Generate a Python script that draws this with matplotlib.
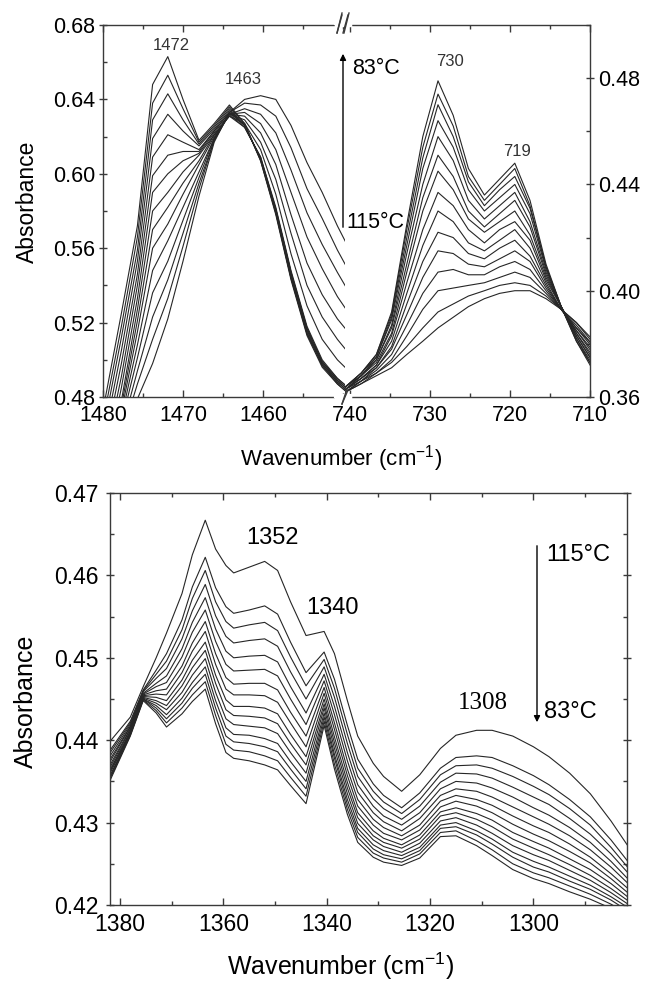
import matplotlib
matplotlib.use("Agg")
import matplotlib.pyplot as plt
from matplotlib.lines import Line2D
from matplotlib.ticker import MultipleLocator, FormatStrFormatter

plt.rcParams["font.family"] = "Liberation Sans"
plt.rcParams["mathtext.fontset"] = "custom"
plt.rcParams["mathtext.rm"] = "Liberation Sans"
plt.rcParams["mathtext.it"] = "Liberation Sans:italic"

# ---- top left: CH2 bending region (83 C first ... 115 C last) ----
tl_wn = [1481.5, 1479.6, 1477.7, 1475.7, 1473.8, 1471.9, 1470.0, 1468.0, 1466.1,
         1464.2, 1462.3, 1460.3, 1458.4, 1456.5, 1454.5, 1452.6, 1450.7, 1448.8]
tl_spectra = [
    [0.440, 0.482, 0.525, 0.572, 0.648, 0.663, 0.640, 0.618, 0.627, 0.637, 0.627, 0.607, 0.578, 0.543, 0.513, 0.496, 0.487, 0.480],
    [0.434, 0.476, 0.518, 0.566, 0.638, 0.653, 0.635, 0.617, 0.626, 0.636, 0.627, 0.607, 0.579, 0.544, 0.514, 0.497, 0.487, 0.480],
    [0.429, 0.470, 0.512, 0.559, 0.629, 0.643, 0.629, 0.616, 0.625, 0.635, 0.626, 0.608, 0.579, 0.544, 0.514, 0.497, 0.488, 0.481],
    [0.423, 0.464, 0.505, 0.553, 0.619, 0.632, 0.623, 0.615, 0.624, 0.634, 0.626, 0.608, 0.580, 0.545, 0.515, 0.498, 0.488, 0.481],
    [0.417, 0.458, 0.498, 0.546, 0.609, 0.621, 0.617, 0.613, 0.623, 0.633, 0.626, 0.608, 0.580, 0.546, 0.516, 0.498, 0.489, 0.482],
    [0.411, 0.452, 0.491, 0.540, 0.599, 0.610, 0.612, 0.612, 0.623, 0.633, 0.626, 0.608, 0.581, 0.547, 0.517, 0.499, 0.489, 0.482],
    [0.406, 0.446, 0.485, 0.533, 0.590, 0.600, 0.607, 0.611, 0.622, 0.632, 0.625, 0.609, 0.581, 0.547, 0.517, 0.499, 0.490, 0.483],
    [0.400, 0.440, 0.478, 0.527, 0.580, 0.590, 0.601, 0.610, 0.621, 0.631, 0.625, 0.609, 0.582, 0.548, 0.518, 0.500, 0.490, 0.483],
    [0.400, 0.439, 0.475, 0.521, 0.570, 0.582, 0.595, 0.607, 0.621, 0.631, 0.627, 0.613, 0.589, 0.557, 0.529, 0.511, 0.500, 0.492],
    [0.400, 0.438, 0.472, 0.515, 0.560, 0.573, 0.589, 0.605, 0.620, 0.632, 0.629, 0.617, 0.597, 0.568, 0.540, 0.523, 0.511, 0.501],
    [0.400, 0.436, 0.469, 0.508, 0.548, 0.564, 0.582, 0.601, 0.619, 0.632, 0.631, 0.622, 0.605, 0.578, 0.552, 0.535, 0.522, 0.512],
    [0.400, 0.435, 0.466, 0.501, 0.536, 0.553, 0.575, 0.598, 0.619, 0.632, 0.633, 0.627, 0.613, 0.590, 0.566, 0.549, 0.534, 0.522],
    [0.400, 0.433, 0.462, 0.494, 0.523, 0.543, 0.568, 0.595, 0.618, 0.632, 0.635, 0.632, 0.622, 0.602, 0.579, 0.562, 0.547, 0.533],
    [0.400, 0.432, 0.459, 0.487, 0.511, 0.533, 0.561, 0.592, 0.618, 0.633, 0.638, 0.637, 0.631, 0.614, 0.592, 0.576, 0.559, 0.544],
    [0.400, 0.430, 0.455, 0.479, 0.498, 0.522, 0.553, 0.588, 0.617, 0.633, 0.640, 0.642, 0.640, 0.626, 0.606, 0.590, 0.572, 0.556],
]

# ---- top right: CH2 rocking region ----
tr_wn = [742.5, 740.5, 738.6, 736.7, 734.8, 732.9, 730.9, 729.0, 727.1,
         725.2, 723.2, 721.3, 719.4, 717.5, 715.5, 713.6, 711.7, 709.8]
tr_spectra = [
    [0.358, 0.364, 0.369, 0.376, 0.392, 0.425, 0.458, 0.479, 0.466, 0.446, 0.436, 0.442, 0.448, 0.434, 0.410, 0.394, 0.381, 0.371],
    [0.358, 0.364, 0.369, 0.376, 0.391, 0.423, 0.454, 0.474, 0.462, 0.443, 0.434, 0.440, 0.446, 0.432, 0.409, 0.394, 0.381, 0.372],
    [0.358, 0.364, 0.369, 0.375, 0.390, 0.420, 0.450, 0.470, 0.458, 0.441, 0.432, 0.438, 0.443, 0.431, 0.409, 0.394, 0.382, 0.372],
    [0.358, 0.364, 0.368, 0.375, 0.389, 0.417, 0.446, 0.464, 0.454, 0.438, 0.430, 0.435, 0.440, 0.429, 0.408, 0.394, 0.382, 0.373],
    [0.358, 0.364, 0.368, 0.374, 0.387, 0.414, 0.440, 0.458, 0.449, 0.434, 0.427, 0.432, 0.437, 0.426, 0.407, 0.394, 0.383, 0.374],
    [0.358, 0.363, 0.368, 0.374, 0.386, 0.410, 0.435, 0.451, 0.443, 0.430, 0.424, 0.429, 0.434, 0.424, 0.406, 0.394, 0.383, 0.374],
    [0.358, 0.363, 0.368, 0.373, 0.384, 0.407, 0.430, 0.445, 0.438, 0.427, 0.422, 0.426, 0.430, 0.421, 0.405, 0.394, 0.384, 0.375],
    [0.358, 0.363, 0.367, 0.372, 0.383, 0.403, 0.423, 0.437, 0.432, 0.423, 0.418, 0.423, 0.426, 0.419, 0.404, 0.394, 0.384, 0.376],
    [0.358, 0.363, 0.367, 0.372, 0.381, 0.399, 0.417, 0.430, 0.426, 0.418, 0.415, 0.419, 0.423, 0.416, 0.403, 0.393, 0.385, 0.377],
    [0.357, 0.363, 0.367, 0.371, 0.379, 0.395, 0.411, 0.422, 0.420, 0.414, 0.412, 0.416, 0.419, 0.413, 0.402, 0.393, 0.385, 0.378],
    [0.357, 0.363, 0.366, 0.371, 0.378, 0.391, 0.405, 0.415, 0.414, 0.410, 0.409, 0.412, 0.415, 0.411, 0.401, 0.393, 0.386, 0.379],
    [0.357, 0.362, 0.366, 0.370, 0.376, 0.387, 0.399, 0.407, 0.408, 0.406, 0.406, 0.409, 0.411, 0.408, 0.400, 0.393, 0.386, 0.380],
    [0.357, 0.362, 0.366, 0.369, 0.374, 0.383, 0.393, 0.400, 0.401, 0.402, 0.403, 0.405, 0.407, 0.405, 0.399, 0.393, 0.387, 0.380],
    [0.357, 0.362, 0.365, 0.369, 0.373, 0.379, 0.386, 0.392, 0.395, 0.398, 0.400, 0.402, 0.403, 0.402, 0.398, 0.393, 0.388, 0.381],
    [0.357, 0.362, 0.365, 0.368, 0.371, 0.376, 0.381, 0.386, 0.390, 0.394, 0.397, 0.399, 0.400, 0.400, 0.397, 0.393, 0.388, 0.382],
]

# ---- bottom: CH2 wagging region (115 C first ... 83 C last) ----
bot_wn = [1382, 1378, 1375.5, 1373, 1371, 1368, 1366, 1363.5, 1361.5, 1359.5, 1358, 1355,
          1352, 1349.5, 1347, 1344, 1340.5, 1338.5, 1336, 1334, 1331, 1329, 1325.5, 1322,
          1318, 1315, 1311, 1308, 1304, 1300, 1297, 1293, 1289, 1285, 1281]
bot_spectra = [
    [0.4398, 0.4428, 0.4465, 0.4500, 0.4530, 0.4578, 0.4625, 0.4667, 0.4632, 0.4612, 0.4603, 0.4610, 0.4617, 0.4606, 0.4568, 0.4527, 0.4532, 0.4505, 0.4448, 0.4405, 0.4372, 0.4356, 0.4338, 0.4358, 0.4390, 0.4406, 0.4412, 0.4412, 0.4405, 0.4392, 0.4380, 0.4360, 0.4335, 0.4302, 0.4265],
    [0.4387, 0.4423, 0.4461, 0.4485, 0.4505, 0.4546, 0.4586, 0.4622, 0.4585, 0.4562, 0.4554, 0.4558, 0.4563, 0.4553, 0.4519, 0.4482, 0.4507, 0.4474, 0.4418, 0.4377, 0.4347, 0.4333, 0.4318, 0.4336, 0.4366, 0.4379, 0.4381, 0.4379, 0.4369, 0.4357, 0.4346, 0.4328, 0.4307, 0.4279, 0.4247],
    [0.4384, 0.4421, 0.4460, 0.4480, 0.4496, 0.4534, 0.4572, 0.4606, 0.4568, 0.4544, 0.4536, 0.4540, 0.4543, 0.4533, 0.4501, 0.4466, 0.4498, 0.4463, 0.4407, 0.4366, 0.4338, 0.4325, 0.4311, 0.4328, 0.4358, 0.4369, 0.4370, 0.4366, 0.4356, 0.4344, 0.4334, 0.4317, 0.4297, 0.4270, 0.4240],
    [0.4380, 0.4419, 0.4459, 0.4475, 0.4487, 0.4523, 0.4557, 0.4589, 0.4551, 0.4526, 0.4518, 0.4521, 0.4523, 0.4514, 0.4483, 0.4450, 0.4489, 0.4452, 0.4396, 0.4356, 0.4329, 0.4317, 0.4304, 0.4320, 0.4349, 0.4360, 0.4359, 0.4354, 0.4343, 0.4331, 0.4322, 0.4305, 0.4286, 0.4262, 0.4234],
    [0.4376, 0.4417, 0.4457, 0.4469, 0.4478, 0.4511, 0.4543, 0.4573, 0.4535, 0.4508, 0.4500, 0.4502, 0.4503, 0.4495, 0.4465, 0.4433, 0.4480, 0.4441, 0.4385, 0.4346, 0.4320, 0.4308, 0.4297, 0.4312, 0.4341, 0.4350, 0.4348, 0.4342, 0.4331, 0.4318, 0.4309, 0.4294, 0.4276, 0.4253, 0.4227],
    [0.4373, 0.4416, 0.4456, 0.4465, 0.4470, 0.4501, 0.4531, 0.4558, 0.4520, 0.4492, 0.4484, 0.4485, 0.4486, 0.4478, 0.4450, 0.4419, 0.4472, 0.4431, 0.4375, 0.4337, 0.4312, 0.4301, 0.4290, 0.4305, 0.4333, 0.4341, 0.4338, 0.4331, 0.4319, 0.4307, 0.4298, 0.4284, 0.4267, 0.4246, 0.4222],
    [0.4369, 0.4414, 0.4455, 0.4460, 0.4462, 0.4490, 0.4518, 0.4544, 0.4505, 0.4476, 0.4468, 0.4469, 0.4469, 0.4461, 0.4434, 0.4405, 0.4464, 0.4421, 0.4365, 0.4328, 0.4304, 0.4294, 0.4284, 0.4297, 0.4326, 0.4333, 0.4328, 0.4321, 0.4308, 0.4296, 0.4288, 0.4274, 0.4258, 0.4238, 0.4216],
    [0.4366, 0.4413, 0.4454, 0.4456, 0.4455, 0.4482, 0.4508, 0.4532, 0.4492, 0.4462, 0.4455, 0.4455, 0.4454, 0.4446, 0.4421, 0.4392, 0.4457, 0.4413, 0.4357, 0.4320, 0.4297, 0.4287, 0.4279, 0.4291, 0.4319, 0.4326, 0.4320, 0.4312, 0.4298, 0.4286, 0.4278, 0.4265, 0.4251, 0.4232, 0.4211],
    [0.4363, 0.4411, 0.4453, 0.4452, 0.4448, 0.4473, 0.4497, 0.4519, 0.4479, 0.4449, 0.4441, 0.4441, 0.4439, 0.4432, 0.4407, 0.4380, 0.4450, 0.4404, 0.4349, 0.4312, 0.4290, 0.4281, 0.4273, 0.4285, 0.4313, 0.4318, 0.4311, 0.4303, 0.4288, 0.4277, 0.4269, 0.4256, 0.4243, 0.4226, 0.4206],
    [0.4361, 0.4410, 0.4452, 0.4448, 0.4442, 0.4466, 0.4488, 0.4509, 0.4469, 0.4437, 0.4430, 0.4429, 0.4427, 0.4420, 0.4396, 0.4370, 0.4444, 0.4397, 0.4342, 0.4306, 0.4284, 0.4276, 0.4269, 0.4280, 0.4308, 0.4312, 0.4304, 0.4295, 0.4280, 0.4269, 0.4261, 0.4249, 0.4236, 0.4220, 0.4202],
    [0.4359, 0.4409, 0.4451, 0.4445, 0.4437, 0.4458, 0.4479, 0.4499, 0.4458, 0.4426, 0.4419, 0.4417, 0.4415, 0.4408, 0.4385, 0.4360, 0.4439, 0.4390, 0.4335, 0.4299, 0.4279, 0.4271, 0.4264, 0.4275, 0.4302, 0.4306, 0.4297, 0.4287, 0.4272, 0.4261, 0.4254, 0.4242, 0.4230, 0.4215, 0.4198],
    [0.4356, 0.4408, 0.4450, 0.4442, 0.4431, 0.4451, 0.4470, 0.4489, 0.4448, 0.4415, 0.4407, 0.4406, 0.4402, 0.4396, 0.4374, 0.4350, 0.4433, 0.4383, 0.4328, 0.4293, 0.4273, 0.4266, 0.4260, 0.4270, 0.4297, 0.4300, 0.4290, 0.4280, 0.4264, 0.4253, 0.4246, 0.4235, 0.4224, 0.4210, 0.4194],
    [0.4354, 0.4407, 0.4450, 0.4439, 0.4426, 0.4445, 0.4463, 0.4480, 0.4439, 0.4405, 0.4398, 0.4396, 0.4392, 0.4386, 0.4365, 0.4341, 0.4428, 0.4378, 0.4322, 0.4288, 0.4268, 0.4261, 0.4256, 0.4266, 0.4293, 0.4295, 0.4285, 0.4274, 0.4258, 0.4246, 0.4240, 0.4229, 0.4219, 0.4206, 0.4190],
    [0.4352, 0.4406, 0.4449, 0.4436, 0.4421, 0.4439, 0.4455, 0.4471, 0.4430, 0.4395, 0.4388, 0.4386, 0.4381, 0.4375, 0.4355, 0.4332, 0.4423, 0.4371, 0.4316, 0.4282, 0.4263, 0.4257, 0.4252, 0.4262, 0.4288, 0.4290, 0.4278, 0.4267, 0.4250, 0.4239, 0.4233, 0.4223, 0.4213, 0.4201, 0.4187],
    [0.4350, 0.4405, 0.4448, 0.4433, 0.4416, 0.4432, 0.4447, 0.4462, 0.4420, 0.4385, 0.4378, 0.4375, 0.4370, 0.4364, 0.4345, 0.4323, 0.4418, 0.4365, 0.4310, 0.4276, 0.4258, 0.4252, 0.4248, 0.4257, 0.4283, 0.4284, 0.4272, 0.4260, 0.4243, 0.4232, 0.4226, 0.4216, 0.4207, 0.4196, 0.4183],
]

tl_xticks = [1480, 1470, 1460]
tr_xticks = [740, 730, 720, 710]
bot_xticks = [1380, 1360, 1340, 1320, 1300]

LINE = "#262626"
AX = "#3a3a3a"
W, H = 646.0, 981.0


def fx(px):
    return px / W


def fy(py):
    return 1 - py / H


def style(ax, size):
    for s in ax.spines.values():
        s.set_color(AX)
        s.set_linewidth(1.0)
    ax.tick_params(axis="x", which="major", direction="in", length=5, width=1,
                   color=AX, labelsize=size, pad=6, top=True)
    ax.tick_params(axis="x", which="minor", direction="in", length=3, width=1,
                   color=AX, top=True)
    ax.tick_params(axis="y", which="major", direction="inout", length=6, width=1,
                   color=AX, labelsize=size)
    ax.tick_params(axis="y", which="minor", direction="in", length=3, width=1, color=AX)


fig = plt.figure(figsize=(6.46, 9.81), dpi=100)

ax_l = fig.add_axes([fx(103), fy(397), (345 - 103) / W, (397 - 25) / H])
ax_r = fig.add_axes([fx(345), fy(397), (590 - 345) / W, (397 - 25) / H])
ax_b = fig.add_axes([fx(110), fy(905), (627 - 110) / W, (905 - 493) / H])

for row in tl_spectra:
    ax_l.plot(tl_wn, row, color=LINE, lw=0.8)
for row in tr_spectra:
    ax_r.plot(tr_wn, row, color=LINE, lw=0.8)
for row in bot_spectra:
    ax_b.plot(bot_wn, row, color=LINE, lw=0.8)

# top left
ax_l.set_xlim(1480, 1449.75)
ax_l.set_ylim(0.48, 0.68)
ax_l.set_xticks(tl_xticks)
ax_l.xaxis.set_minor_locator(MultipleLocator(5))
ax_l.yaxis.set_major_locator(MultipleLocator(0.04))
ax_l.yaxis.set_minor_locator(MultipleLocator(0.02))
ax_l.yaxis.set_major_formatter(FormatStrFormatter("%.2f"))
style(ax_l, 15.5)
ax_l.tick_params(axis="y", which="both", right=False, pad=2.5)
ax_l.spines["right"].set_visible(False)

# top right
ax_r.set_xlim(740.625, 710)
ax_r.set_ylim(0.36, 0.50)
ax_r.set_xticks(tr_xticks)
ax_r.xaxis.set_minor_locator(MultipleLocator(5))
ax_r.yaxis.set_major_locator(MultipleLocator(0.04))
ax_r.yaxis.set_minor_locator(MultipleLocator(0.02))
ax_r.yaxis.set_major_formatter(FormatStrFormatter("%.2f"))
style(ax_r, 15.5)
ax_r.yaxis.tick_right()
ax_r.tick_params(axis="y", which="both", left=False, right=True, pad=3)
ax_r.spines["left"].set_visible(False)

# bottom
ax_b.set_xlim(1381.93, 1281.9)
ax_b.set_ylim(0.42, 0.47)
ax_b.set_xticks(bot_xticks)
ax_b.xaxis.set_minor_locator(MultipleLocator(10))
ax_b.yaxis.set_major_locator(MultipleLocator(0.01))
ax_b.yaxis.set_minor_locator(MultipleLocator(0.005))
ax_b.yaxis.set_major_formatter(FormatStrFormatter("%.2f"))
style(ax_b, 16.5)
ax_b.tick_params(axis="y", which="both", right=True, pad=5)

# axis break marks
for y0, y1, xs in [(13, 33, (337, 344)), (389, 404, (342,))]:
    fig.add_artist(Line2D([fx(336), fx(350)], [fy((y0 + y1) / 2)] * 2,
                          color="white", lw=3, zorder=5))
    for x in xs:
        fig.add_artist(Line2D([fx(x), fx(x + 5)], [fy(y1), fy(y0)],
                              color=AX, lw=1, zorder=6))
fig.add_artist(Line2D([fx(336), fx(350)], [fy(25)] * 2, color="white", lw=2.5, zorder=5))
fig.add_artist(Line2D([fx(336), fx(350)], [fy(397)] * 2, color="white", lw=2.5, zorder=5))
fig.add_artist(Line2D([fx(337), fx(342)], [fy(33), fy(15)], color=AX, lw=1, zorder=6))
fig.add_artist(Line2D([fx(343), fx(348)], [fy(33), fy(15)], color=AX, lw=1, zorder=6))
fig.add_artist(Line2D([fx(342), fx(348)], [fy(404), fy(390)], color=AX, lw=1, zorder=6))

# band labels
fig.text(fx(171), fy(45), "1472", ha="center", va="center", fontsize=12, color="#333333")
fig.text(fx(243), fy(80), "1463", ha="center", va="center", fontsize=12, color="#333333")
fig.text(fx(450), fy(62), "730", ha="center", va="center", fontsize=12, color="#333333")
fig.text(fx(517), fy(152), "719", ha="center", va="center", fontsize=12, color="#333333")
fig.text(fx(272), fy(538), "1352", ha="center", va="center", fontsize=17)
fig.text(fx(332), fy(608), "1340", ha="center", va="center", fontsize=17)
fig.text(fx(483), fy(703), "1308", ha="center", va="center", fontsize=18,
         family="Liberation Serif")

# temperature arrows
fig.add_artist(matplotlib.patches.FancyArrowPatch(
    (fx(343), fy(230)), (fx(343), fy(51)), transform=fig.transFigure,
    arrowstyle="-|>", mutation_scale=9, lw=1, color="black"))
fig.text(fx(352), fy(68), "83°C", ha="left", va="center", fontsize=15.5)
fig.text(fx(346), fy(222), "115°C", ha="left", va="center", fontsize=15.5)

fig.add_artist(matplotlib.patches.FancyArrowPatch(
    (fx(537), fy(543)), (fx(537), fy(725)), transform=fig.transFigure,
    arrowstyle="-|>", mutation_scale=9, lw=1, color="black"))
fig.text(fx(546), fy(555), "115°C", ha="left", va="center", fontsize=17)
fig.text(fx(544), fy(712), "83°C", ha="left", va="center", fontsize=17)

# axis titles
fig.text(fx(27), fy(202), "Absorbance", rotation=90, ha="center", va="center", fontsize=16.5)
fig.text(fx(341), fy(459), "Wavenumber (cm$^{-1}$)", ha="center", va="center", fontsize=16)
fig.text(fx(26), fy(701), "Absorbance", rotation=90, ha="center", va="center", fontsize=18)
fig.text(fx(341), fy(966), "Wavenumber (cm$^{-1}$)", ha="center", va="center", fontsize=18)

fig.savefig("out.png", dpi=100)
